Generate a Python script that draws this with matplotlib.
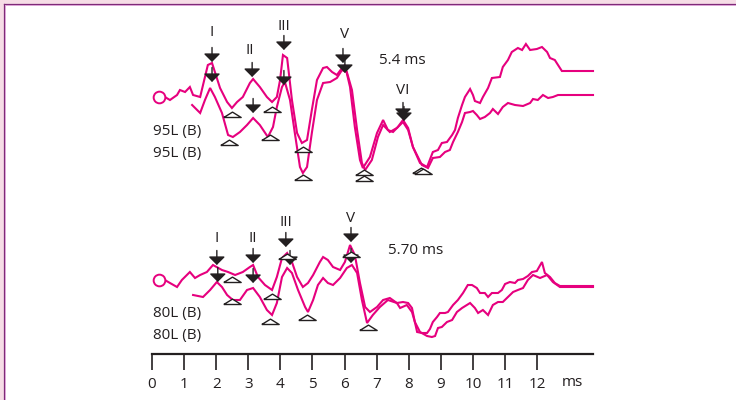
import matplotlib.pyplot as plt
from matplotlib.patches import Rectangle
from matplotlib.lines import Line2D

plt.rcParams['font.family'] = ['Open Sans', 'DejaVu Sans']

# ---------------------------------------------------------------
# WAVEFORMS (time in ms, amplitude in arbitrary units)
# ---------------------------------------------------------------
t_95_a = [0.40, 0.56, 0.78, 0.87, 1.03, 1.18, 1.28, 1.50, 1.65, 1.74, 1.87, 1.96, 2.12, 2.34,
          2.49, 2.65, 2.83, 3.05, 3.15, 3.36, 3.58, 3.74, 3.89, 3.99, 4.08, 4.21, 4.36, 4.52,
          4.67, 4.83, 4.98, 5.14, 5.33, 5.45, 5.61, 5.76, 5.92, 6.01, 6.17, 6.32, 6.48, 6.57,
          6.79, 7.01, 7.20, 7.35, 7.51, 7.66, 7.82, 7.98, 8.13, 8.35, 8.57, 8.75, 8.91, 9.03,
          9.19, 9.35, 9.44, 9.53, 9.66, 9.75, 9.91, 10.00, 10.06, 10.22, 10.31, 10.47, 10.59,
          10.84, 10.93, 11.09, 11.21, 11.40, 11.53, 11.65, 11.78, 11.99, 12.15, 12.31, 12.40,
          12.55, 12.65, 12.77, 13.74]
a_95_a = [0.0, -0.3, 0.2, 0.7, 0.5, 1.0, 0.2, 0.0, 2.0, 3.2, 3.4, 2.5, 0.9, -0.5,
          -1.1, -0.5, 0.0, 1.4, 1.8, 1.0, 0.0, -0.5, 0.0, 1.7, 4.2, 3.9, -0.3, -3.6,
          -4.6, -4.3, -1.3, 1.7, 2.9, 3.0, 2.5, 2.2, 2.9, 3.2, 1.0, -3.0, -6.3, -7.1,
          -6.0, -3.6, -2.3, -3.3, -3.5, -3.0, -2.3, -3.1, -5.0, -6.6, -7.0, -5.5, -5.3, -4.6,
          -4.5, -3.8, -3.3, -2.1, -0.8, 0.0, 0.8, 0.2, -0.4, -0.6, 0.0, 0.9, 1.9,
          2.0, 3.0, 3.7, 4.5, 4.9, 4.7, 5.3, 4.7, 4.8, 5.0, 4.5, 3.9,
          3.7, 3.2, 2.6, 2.6]

t_95_b = [1.25, 1.50, 1.65, 1.81, 1.96, 2.18, 2.37, 2.52, 2.74, 2.96, 3.15, 3.36, 3.61, 3.77,
          3.89, 4.05, 4.14, 4.30, 4.45, 4.61, 4.70, 4.83, 4.98, 5.14, 5.33, 5.55, 5.76, 5.92,
          6.07, 6.23, 6.39, 6.54, 6.64, 6.85, 7.04, 7.20, 7.41, 7.63, 7.82, 7.98, 8.13, 8.41,
          8.60, 8.75, 8.97, 9.13, 9.28, 9.38, 9.53, 9.66, 9.75, 9.91, 10.00, 10.12, 10.22,
          10.37, 10.53, 10.62, 10.78, 10.93, 11.09, 11.31, 11.56, 11.78, 11.87, 12.02, 12.18,
          12.34, 12.49, 12.65, 13.74]
a_95_b = [-0.8, -1.6, -0.3, 0.9, 0.0, -1.6, -3.8, -4.0, -3.5, -2.8, -2.1, -2.8, -4.0, -3.0,
          -1.0, 1.0, 1.5, -0.3, -3.6, -7.0, -7.6, -7.0, -3.6, -0.3, 1.4, 1.5, 1.9, 2.7,
          2.5, 0.7, -3.3, -6.6, -7.3, -6.3, -4.0, -2.8, -3.5, -3.1, -2.5, -3.3, -5.0, -6.8,
          -7.1, -6.1, -6.0, -5.5, -5.3, -4.5, -3.5, -2.5, -1.6, -1.5, -1.4, -1.8, -2.2,
          -2.0, -1.6, -1.2, -1.7, -1.0, -0.6, -0.8, -0.9, -0.6, -0.2, -0.3, 0.2,
          -0.1, 0.0, 0.2, 0.2]

t_80_a = [0.40, 0.56, 0.78, 0.93, 1.18, 1.34, 1.50, 1.71, 1.90, 2.18, 2.37, 2.59, 2.83, 3.05,
          3.15, 3.30, 3.52, 3.74, 3.89, 4.05, 4.21, 4.36, 4.52, 4.70, 4.86, 5.02, 5.23, 5.33,
          5.48, 5.64, 5.86, 6.01, 6.17, 6.32, 6.48, 6.64, 6.79, 7.01, 7.20, 7.41, 7.63, 7.82,
          7.98, 8.10, 8.19, 8.26, 8.41, 8.57, 8.66, 8.75, 8.88, 8.97, 9.13, 9.22, 9.38, 9.53,
          9.69, 9.84, 9.97, 10.12, 10.22, 10.37, 10.47, 10.59, 10.78, 10.90, 11.00, 11.15,
          11.31, 11.40, 11.56, 11.71, 11.84, 11.99, 12.15, 12.24, 12.40, 12.55, 12.71, 13.74]
a_80_a = [0.0, -0.3, -0.7, 0.0, 0.8, 0.2, 0.5, 0.8, 1.5, 1.0, 0.8, 0.5, 0.8, 1.3,
          1.5, 0.3, -0.5, -1.0, 0.3, 2.2, 2.7, 1.8, 0.3, -0.7, -0.3, 0.5, 1.8, 2.3,
          2.0, 1.3, 1.0, 1.8, 3.5, 2.5, -0.3, -2.7, -3.2, -2.7, -2.0, -1.8, -2.3, -2.2,
          -2.3, -2.8, -4.2, -5.2, -5.3, -5.3, -4.9, -4.2, -3.7, -3.3, -3.3, -3.2, -2.5, -2.0,
          -1.3, -0.5, -0.5, -0.8, -1.3, -1.3, -1.7, -1.3, -1.3, -1.0, -0.4, -0.2,
          -0.3, 0.0, 0.1, 0.4, 0.8, 0.9, 1.8, 0.7, 0.3, -0.3, -0.6, -0.6]

t_80_b = [1.28, 1.59, 1.81, 2.02, 2.18, 2.34, 2.52, 2.74, 2.96, 3.15, 3.36, 3.58, 3.74, 3.89,
          4.05, 4.21, 4.36, 4.55, 4.77, 4.86, 5.02, 5.17, 5.33, 5.48, 5.64, 5.86, 6.07, 6.23,
          6.39, 6.54, 6.70, 6.88, 7.10, 7.35, 7.63, 7.73, 7.94, 8.10, 8.19, 8.35, 8.57, 8.72,
          8.82, 8.91, 9.03, 9.19, 9.35, 9.50, 9.66, 9.81, 9.91, 10.06, 10.16, 10.31, 10.47,
          10.62, 10.78, 10.93, 11.09, 11.25, 11.40, 11.56, 11.71, 11.87, 12.09, 12.31, 12.49,
          12.71, 13.74]
a_80_b = [-1.5, -1.7, -1.0, -0.2, -0.7, -1.5, -2.0, -2.0, -1.0, -0.8, -1.7, -3.0, -3.5, -2.3,
          0.3, 1.2, 0.7, -1.0, -2.7, -3.2, -2.0, -0.5, 0.2, -0.3, -0.5, 0.2, 1.2, 1.5,
          0.7, -2.0, -4.3, -3.5, -2.7, -2.0, -2.3, -2.8, -2.5, -3.2, -4.2, -5.2, -5.6, -5.7,
          -5.6, -4.8, -4.7, -4.2, -4.0, -3.2, -2.8, -2.5, -2.3, -2.8, -3.3, -3.0, -3.5,
          -2.5, -2.2, -2.2, -1.7, -1.2, -1.0, -0.8, 0.0, 0.5, 0.2, 0.5, -0.2,
          -0.7, -0.7]

stim_t = 0.21  # start circle

# peak markers (filled arrows) and trough markers (open triangles)
peak_95_t = [1.87, 3.12, 4.11, 5.95, 7.82, 1.87, 3.15, 4.11, 6.01, 7.85]
peak_95_a = [3.5, 2.0, 4.7, 3.4, -2.0, 1.5, -1.6, 1.2, 2.4, -2.4]
trough_95_t = [2.49, 3.74, 4.70, 6.60, 8.38, 2.40, 3.68, 4.70, 6.60, 8.44]
trough_95_a = [-2.0, -1.5, -5.5, -7.8, -7.6, -4.8, -4.3, -8.3, -8.4, -7.7]

peak_80_t = [2.02, 3.15, 4.17, 6.20, 2.05, 3.15, 4.30, 6.20]
peak_80_a = [1.5, 1.7, 3.3, 3.8, -0.2, -0.3, 1.5, 1.7]
trough_80_t = [2.49, 2.49, 3.74, 3.68, 4.20, 4.83, 6.20, 6.73]
trough_80_a = [-0.2, -2.4, -1.9, -4.4, 2.1, -4.0, 2.3, -5.0]

wave_names_95 = ["I", "II", "III", "V", "VI"]
wave_names_80 = ["I", "II", "III", "V"]
latency_95 = "5.4 ms"
latency_80 = "5.70 ms"
label_95 = "95L (B)"
label_80 = "80L (B)"
xticks = list(range(13))

# ---------------------------------------------------------------
# STYLE / LAYOUT
# ---------------------------------------------------------------
pink = "#E6007E"
dark = "#231F20"
base_95 = 25.7
base_80 = 7.4
fs = 11

fig = plt.figure(figsize=(7.36, 4.0), dpi=100)
fig.patch.set_facecolor("white")

# frame border (pink band + purple rule)
fig.patches.append(Rectangle((0, 1 - 3.2 / 400), 1, 3.2 / 400, transform=fig.transFigure,
                             color="#F6DDE6", zorder=0))
fig.patches.append(Rectangle((0, 0), 3.2 / 736, 1, transform=fig.transFigure,
                             color="#F6DDE6", zorder=0))
fig.lines.append(Line2D([3.5 / 736, 1], [1 - 3.9 / 400] * 2, transform=fig.transFigure,
                        color="#7E2A78", lw=0.9))
fig.lines.append(Line2D([3.9 / 736] * 2, [0, 1 - 3.9 / 400], transform=fig.transFigure,
                        color="#7E2A78", lw=0.9))
fig.lines.append(Line2D([4.5 / 736, 1], [1 - 4.8 / 400] * 2, transform=fig.transFigure,
                        color="#DCA3D6", lw=0.7))
fig.lines.append(Line2D([4.8 / 736] * 2, [0, 1 - 4.8 / 400], transform=fig.transFigure,
                        color="#DCA3D6", lw=0.7))

ax = fig.add_axes([152 / 736, 46 / 400, 441 / 736, 344 / 400])
ax.set_xlim(0, 13.74)
ax.set_ylim(0, 34.4)
ax.patch.set_alpha(0)
for s in ["top", "right", "left"]:
    ax.spines[s].set_visible(False)
ax.spines["bottom"].set_linewidth(1.6)
ax.spines["bottom"].set_color(dark)
ax.set_yticks([])
ax.set_xticks(xticks)
ax.tick_params(axis="x", direction="out", length=11.5, width=1.2, color=dark,
               pad=5, labelsize=fs, labelcolor=dark)

# traces
for tt, aa, base in [(t_95_a, a_95_a, base_95), (t_95_b, a_95_b, base_95),
                     (t_80_a, a_80_a, base_80), (t_80_b, a_80_b, base_80)]:
    ax.plot(tt, [v + base for v in aa], color=pink, lw=1.5, solid_joinstyle="miter",
            clip_on=False, zorder=2)

for base in [base_95, base_80]:
    ax.plot([stim_t], [base], marker="o", ms=8.4, mfc="white", mec=pink, mew=1.4,
            clip_on=False, zorder=3)

tri = [(-1, 0), (1, 0), (0, 0.62), (-1, 0)]


def draw_markers(pt, pa, tt, ta, base):
    for t, a in zip(pt, pa):
        ax.annotate("", xy=(t, a + base), xytext=(t, a + base + 1.45),
                    arrowprops=dict(arrowstyle="-|>,head_length=0.5,head_width=0.5",
                                    mutation_scale=10, lw=1.0, color=dark,
                                    shrinkA=0, shrinkB=0),
                    annotation_clip=False, zorder=4)
    ax.plot(tt, [a + base for a in ta], ls="none", marker=tri, ms=12.5, mfc="white",
            mec=dark, mew=1.0, clip_on=False, zorder=4)


draw_markers(peak_95_t, peak_95_a, trough_95_t, trough_95_a, base_95)
draw_markers(peak_80_t, peak_80_a, trough_80_t, trough_80_a, base_80)

# wave labels
for name, t, y in zip(wave_names_95, [1.87, 3.05, 4.11, 6.01, 7.82],
                      [32.2, 30.3, 32.8, 31.9, 26.4]):
    ax.text(t, y, name, ha="center", va="center", fontsize=fs, color=dark)
for name, t, y in zip(wave_names_80, [2.02, 3.15, 4.17, 6.20],
                      [11.5, 11.5, 13.2, 13.6]):
    ax.text(t, y, name, ha="center", va="center", fontsize=fs, color=dark)

ax.text(7.07, 29.4, latency_95, ha="left", va="center", fontsize=fs, color=dark)
ax.text(7.35, 10.4, latency_80, ha="left", va="center", fontsize=fs, color=dark)

ax.text(0.03, 22.2, label_95, ha="left", va="center", fontsize=fs, color=dark)
ax.text(0.03, 20.1, label_95, ha="left", va="center", fontsize=fs, color=dark)
ax.text(0.03, 4.1, label_80, ha="left", va="center", fontsize=fs, color=dark)
ax.text(0.03, 1.9, label_80, ha="left", va="center", fontsize=fs, color=dark)

ax.text(13.11, -2.9, "ms", ha="center", va="center", fontsize=fs, color=dark, clip_on=False)

fig.savefig("out.png", dpi=100)
